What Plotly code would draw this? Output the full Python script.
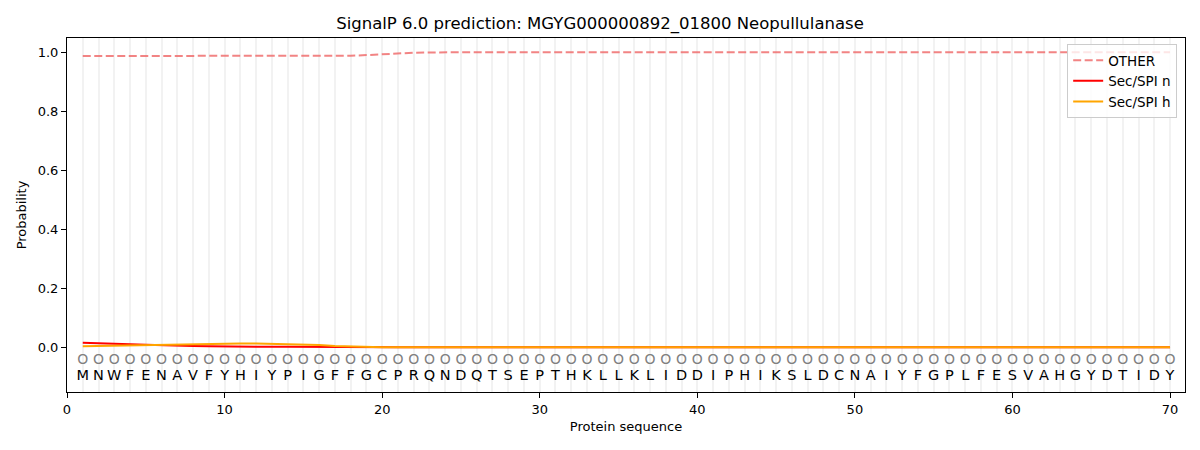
import plotly.graph_objects as go

# ---------- data ----------
residues = list("MNWFENAVFYHIYPIGFFGCPRQNDQTSEPTHKLLKLIDDIPHIKSLDCNAIYFGPLFESVAHGYDTIDY")
positions = list(range(1, len(residues) + 1))
states = ["O"] * len(residues)

other = [0.987] * 17 + [0.988, 0.990, 0.993, 0.996, 0.998, 0.999] + [1.0] * 47
sec_n = [0.015, 0.014, 0.012, 0.010, 0.008, 0.006, 0.005, 0.004, 0.003, 0.002,
         0.002, 0.001, 0.001, 0.001, 0.0005, 0.0003] + [0.0] * 54
sec_h = [0.003, 0.004, 0.005, 0.007, 0.008, 0.009, 0.010, 0.011, 0.012, 0.012,
         0.012, 0.012, 0.011, 0.010, 0.009, 0.007, 0.004, 0.002, 0.001] + [0.0] * 51

title = "SignalP 6.0 prediction: MGYG000000892_01800 Neopullulanase"
font = "DejaVu Sans"

# ---------- figure ----------
fig = go.Figure()
fig.add_trace(go.Scatter(x=positions, y=other, mode="lines", name="OTHER",
                         line=dict(color="rgba(240,110,110,0.85)", width=2, dash="8px,3.5px")))
fig.add_trace(go.Scatter(x=positions, y=sec_n, mode="lines", name="Sec/SPI n",
                         line=dict(color="red", width=2)))
fig.add_trace(go.Scatter(x=positions, y=sec_h, mode="lines", name="Sec/SPI h",
                         line=dict(color="orange", width=2)))
fig.add_trace(go.Scatter(x=positions, y=[-0.045] * len(states), mode="text", text=states,
                         textfont=dict(family=font, size=14, color="grey"), showlegend=False,
                         hoverinfo="skip"))
fig.add_trace(go.Scatter(x=positions, y=[-0.1] * len(residues), mode="text", text=residues,
                         textfont=dict(family=font, size=14.5, color="black"), showlegend=False,
                         hoverinfo="skip"))

axis_common = dict(showline=True, linecolor="black", linewidth=1, mirror=True,
                   ticks="outside", ticklen=5, tickcolor="black", zeroline=False,
                   automargin=False,
                   tickfont=dict(family=font, size=13, color="black"))

fig.update_xaxes(range=[0, 70.95], tickmode="array", tickvals=list(range(0, 71, 10)),
                 showgrid=False,
                 minor=dict(tickvals=positions, showgrid=True, gridcolor="#f2f2f2",
                            gridwidth=2, ticks=""),
                 title=dict(text="Protein sequence", font=dict(family=font, size=13, color="black"),
                            standoff=6),
                 **axis_common)
fig.update_yaxes(range=[-0.152, 1.048], tickvals=[0, 0.2, 0.4, 0.6, 0.8, 1.0], tickformat=".1f",
                 showgrid=False,
                 title=dict(text="Probability", font=dict(family=font, size=13, color="black"),
                            standoff=8),
                 **axis_common)

fig.update_layout(
    width=1200, height=450,
    margin=dict(l=67, r=15, t=38, b=58, autoexpand=False),
    plot_bgcolor="white", paper_bgcolor="white",
    title=dict(text=title, x=0.5, xanchor="center", y=0.949, yanchor="middle",
               font=dict(family=font, size=16.5, color="black")),
    legend=dict(x=0.993, y=0.983, xanchor="right", yanchor="top",
                bgcolor="rgba(255,255,255,0.8)", bordercolor="#cccccc", borderwidth=1,
                font=dict(family=font, size=13.5, color="black"), tracegroupgap=0),
)

# page body has a default 8px margin; drop it so the figure sits at the corner
fig.write_html("out.html", config={"displayModeBar": False},
               post_script="document.body.style.margin = '0';")
